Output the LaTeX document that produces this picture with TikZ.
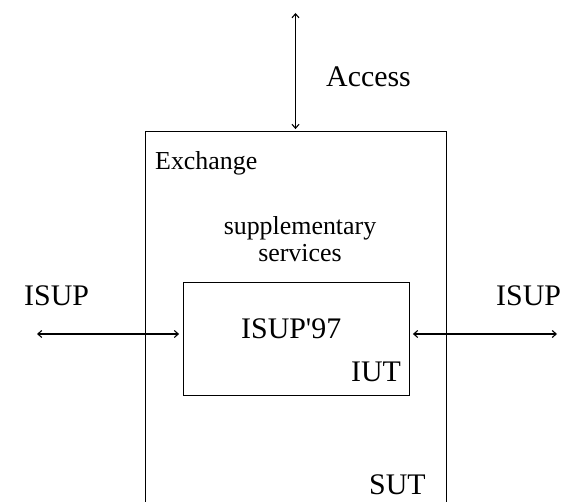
\documentclass[tikz,border=0pt]{standalone}
\usepackage{fontspec}
\setmainfont{Liberation Serif}
\usetikzlibrary{arrows.meta}
\begin{document}
\begin{tikzpicture}[x=1bp,y=1bp,
  box/.style={draw, line width=0.8bp, inner sep=0pt, rectangle},
  big/.style={font=\fontsize{30}{34}\selectfont, inner sep=0pt},
  small/.style={font=\fontsize{26}{28}\selectfont, inner sep=0pt},
  dblarrow/.style={line width=1.1bp, {Straight Barb[length=4bp,width=7bp]}-{Straight Barb[length=4bp,width=7bp]}}]
\useasboundingbox (0,0) rectangle (569,502);
\clip (0,0) rectangle (569,502);
% boxes
\node[box, minimum width=301bp, minimum height=381bp] (exch) at (295.5,180.5) {};
\node[box, minimum width=226bp, minimum height=113bp] (iut) at (296,163.5) {};
% texts
\node[big, anchor=base west] (access) at (326,415) {Access};
\node[small, anchor=base west] (exchlbl) at (155,332) {Exchange};
\node[small, anchor=base, align=center] (supp) at (300,240) {supplementary\\services};
\node[big, anchor=base west] (isupl) at (24,196) {ISUP};
\node[big, anchor=base west] (isupr) at (496,196) {ISUP};
\node[big, anchor=base west] (isup97) at (241,163) {ISUP\textquotesingle 97};
\node[big, anchor=base west] (iutlbl) at (351,120) {IUT};
\node[big, anchor=base west] (sutlbl) at (369,7) {SUT};
% connectors
\coordinate (top) at (295.5,489);
\coordinate (la) at (37,168);
\coordinate (ra) at (557,168);
\draw[dblarrow, shorten >=1.5bp] (top) -- (exch.north);
\draw[dblarrow, shorten >=3.5bp] (la) -- (la -| iut.west);
\draw[dblarrow, shorten <=3.5bp] (ra -| iut.east) -- (ra);
\end{tikzpicture}
\end{document}
